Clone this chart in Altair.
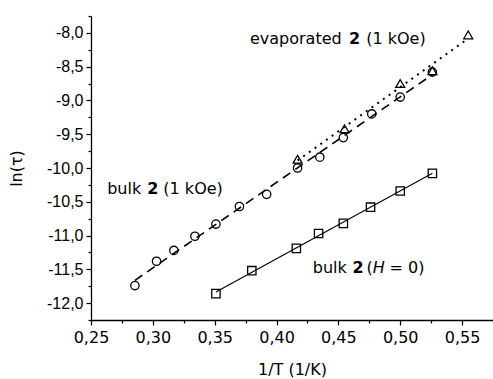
import altair as alt
import pandas as pd

# bulk 2 (1 kOe) - circles
circ_x = [0.2855, 0.303, 0.317, 0.334, 0.351, 0.370, 0.392, 0.417, 0.435, 0.454, 0.477, 0.500, 0.526]
circ_y = [-11.74, -11.38, -11.22, -11.01, -10.83, -10.57, -10.39, -10.00, -9.84, -9.55, -9.20, -8.95, -8.58]
# evaporated 2 (1 kOe) - triangles
tri_x = [0.417, 0.455, 0.500, 0.526, 0.555]
tri_y = [-9.87, -9.42, -8.75, -8.56, -8.03]
# bulk 2 (H = 0) - squares
sq_x = [0.351, 0.380, 0.416, 0.434, 0.454, 0.476, 0.500, 0.526]
sq_y = [-11.86, -11.52, -11.19, -10.97, -10.82, -10.58, -10.34, -10.08]

x_major = [0.25, 0.30, 0.35, 0.40, 0.45, 0.50, 0.55]
x_minor = [0.275, 0.325, 0.375, 0.425, 0.475, 0.525, 0.575]
y_major = [-8.0, -8.5, -9.0, -9.5, -10.0, -10.5, -11.0, -11.5, -12.0]
y_minor = [-7.75, -8.25, -8.75, -9.25, -9.75, -10.25, -10.75, -11.25, -11.75, -12.25]

# annotation pieces (data coords of left/baseline)
ann_regular = pd.DataFrame({
    "x": [0.3785, 0.4725, 0.2631, 0.3085, 0.4293, 0.4728, 0.4914],
    "y": [-8.167, -8.167, -10.39, -10.39, -11.56, -11.56, -11.56],
    "t": ["evaporated", "(1 kOe)", "bulk", "(1 kOe)", "bulk", "(", "= 0)"],
})
ann_bold = pd.DataFrame({
    "x": [0.4585, 0.2954, 0.4615],
    "y": [-8.167, -10.39, -11.56],
    "t": ["2", "2", "2"],
})
ann_italic = pd.DataFrame({"x": [0.4777], "y": [-11.56], "t": ["H"]})

df_c = pd.DataFrame({"x": circ_x, "y": circ_y})
df_t = pd.DataFrame({"x": tri_x, "y": tri_y})
df_s = pd.DataFrame({"x": sq_x, "y": sq_y})

xs = alt.Scale(domain=[0.25, 0.575], nice=False, zero=False)
ys = alt.Scale(domain=[-12.25, -7.75], nice=False, zero=False)

FONT = "DejaVu Sans"

x_axis = alt.Axis(
    orient="bottom", values=x_major, grid=False, labelFlush=False, labelOverlap=False,
    labelExpr="replace(format(datum.value, '.2f'), '.', ',')",
    labelFont=FONT, labelFontSize=16, labelColor="black", labelPadding=4,
    tickSize=5, tickColor="black", tickWidth=1.2, domainColor="black", domainWidth=1.3,
    title="1/T (1/K)", titleFont=FONT, titleFontSize=16, titleFontWeight="normal",
    titleColor="black", titleX=201, titleY=49, titleAlign="center", titleBaseline="middle",
)
y_axis = alt.Axis(
    orient="left", values=y_major, grid=False, labelFlush=False, labelOverlap=False,
    labelExpr="(datum.value < 0 ? '-' : '') + replace(format(abs(datum.value), '.1f'), '.', ',')",
    labelFont="Liberation Sans", labelFontSize=16, labelColor="black", labelPadding=3,
    tickSize=5, tickColor="black", tickWidth=1.2, domainColor="black", domainWidth=1.3,
    title="ln(τ)", titleFont=FONT, titleFontSize=16, titleFontWeight="normal",
    titleColor="black", titleX=-75, titleY=152, titleAlign="center", titleBaseline="middle",
    titleAngle=270,
)
x_minor_axis = alt.Axis(orient="bottom", values=x_minor, labels=False, domain=False, grid=False,
                        tickSize=3, tickColor="black", tickWidth=1.2, title=None)
y_minor_axis = alt.Axis(orient="left", values=y_minor, labels=False, domain=False, grid=False,
                        tickSize=3, tickColor="black", tickWidth=1.2, title=None)

def X(axis=None):
    return alt.X("x:Q", scale=xs, axis=axis)

def Y(axis=None):
    return alt.Y("y:Q", scale=ys, axis=axis)

base_axes = alt.Chart(df_s).mark_point(opacity=0).encode(x=X(x_axis), y=Y(y_axis))
minor_axes = alt.Chart(df_s).mark_point(opacity=0).encode(x=X(x_minor_axis), y=Y(y_minor_axis))

line_c = alt.Chart(df_c).transform_regression("x", "y").mark_line(
    color="black", strokeWidth=1.6, strokeDash=[9, 6]).encode(x=X(), y=Y())
line_t = alt.Chart(df_t).transform_regression("x", "y").mark_line(
    color="black", strokeWidth=2, strokeDash=[2, 5]).encode(x=X(), y=Y())
line_s = alt.Chart(df_s).transform_regression("x", "y").mark_line(
    color="black", strokeWidth=1.1).encode(x=X(), y=Y())

pts_c = alt.Chart(df_c).mark_point(shape="circle", size=70, filled=False, color="black",
                                   strokeWidth=1.3, opacity=1).encode(x=X(), y=Y())
pts_t = alt.Chart(df_t).mark_point(shape="triangle-up", size=80, filled=False, color="black",
                                   strokeWidth=1.3, opacity=1).encode(x=X(), y=Y())
pts_s = alt.Chart(df_s).mark_point(shape="square", size=70, filled=False, color="black",
                                   strokeWidth=1.3, opacity=1).encode(x=X(), y=Y())

txt_r = alt.Chart(ann_regular).mark_text(align="left", baseline="alphabetic", font=FONT,
                                         fontSize=16, color="black").encode(x=X(), y=Y(), text="t:N")
txt_b = alt.Chart(ann_bold).mark_text(align="left", baseline="alphabetic", font=FONT,
                                      fontSize=16, fontWeight="bold", color="black").encode(x=X(), y=Y(), text="t:N")
txt_i = alt.Chart(ann_italic).mark_text(align="left", baseline="alphabetic", font=FONT,
                                        fontSize=16, fontStyle="italic", color="black").encode(x=X(), y=Y(), text="t:N")

chart = alt.layer(
    base_axes, minor_axes, line_c, line_t, line_s, pts_c, pts_t, pts_s, txt_r, txt_b, txt_i
).resolve_axis(x="independent", y="independent").properties(
    width=402, height=304,
    autosize=alt.AutoSizeParams(type="none"),
    padding={"left": 91, "top": 16, "right": 0, "bottom": 59},
    background="white",
).configure_view(stroke=None)

chart.save("out.html", embed_options={"renderer": "svg", "actions": False})
